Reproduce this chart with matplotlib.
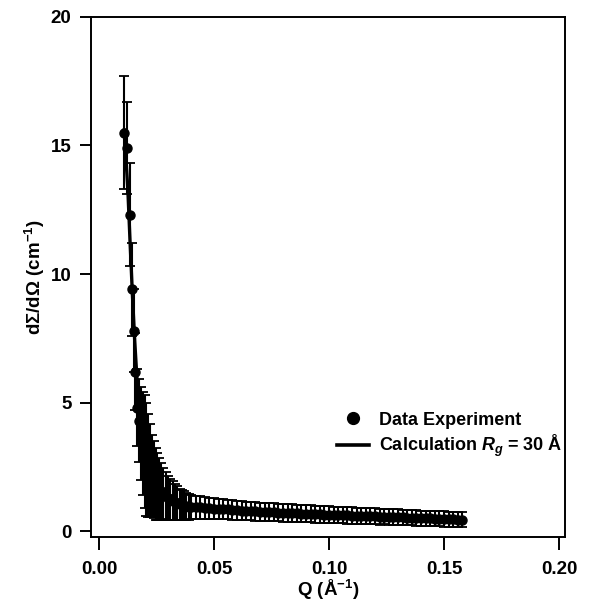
#!/usr/bin/env python3
"""SANS curve: experimental data with error bars and Rg = 30 A calculation."""
import matplotlib as mpl
import matplotlib.pyplot as plt
from matplotlib.lines import Line2D

q_exp = [0.0109, 0.0122, 0.0135, 0.0143, 0.0152, 0.0158, 0.0166, 0.0174, 0.0182,
         0.0190, 0.0198, 0.0206, 0.0214, 0.0222, 0.0230, 0.0238, 0.0246, 0.0254,
         0.0262, 0.0270, 0.0280, 0.0290, 0.0300, 0.0310, 0.0320, 0.0330, 0.0340,
         0.0350, 0.0360, 0.0370, 0.0380, 0.0390, 0.0400,
         0.042, 0.044, 0.046, 0.048, 0.050, 0.052, 0.054, 0.056, 0.058, 0.060,
         0.062, 0.064, 0.066, 0.068, 0.070, 0.072, 0.074, 0.076, 0.078, 0.080,
         0.082, 0.084, 0.086, 0.088, 0.090, 0.092, 0.094, 0.096, 0.098, 0.100,
         0.102, 0.104, 0.106, 0.108, 0.110, 0.112, 0.114, 0.116, 0.118, 0.120,
         0.122, 0.124, 0.126, 0.128, 0.130, 0.132, 0.134, 0.136, 0.138, 0.140,
         0.142, 0.144, 0.146, 0.148, 0.150, 0.152, 0.154, 0.156, 0.158]
i_exp = [15.5, 14.9, 12.3, 9.4, 7.8, 6.2, 4.8, 4.3, 3.8,
         3.4, 3.1, 2.8, 2.55, 2.35, 2.15, 2.0, 1.85, 1.75,
         1.65, 1.55, 1.45, 1.38, 1.30, 1.24, 1.18, 1.13, 1.09,
         1.05, 1.02, 0.99, 0.97, 0.95, 0.94,
         0.93, 0.92, 0.90, 0.89, 0.87, 0.86, 0.85, 0.84, 0.82, 0.81,
         0.80, 0.79, 0.78, 0.77, 0.76, 0.75, 0.74, 0.73, 0.72, 0.71,
         0.70, 0.70, 0.69, 0.68, 0.67, 0.67, 0.66, 0.65, 0.64, 0.64,
         0.63, 0.62, 0.62, 0.61, 0.60, 0.60, 0.59, 0.58, 0.58, 0.57,
         0.56, 0.56, 0.55, 0.54, 0.54, 0.53, 0.52, 0.52, 0.51, 0.50,
         0.50, 0.49, 0.48, 0.48, 0.47, 0.46, 0.46, 0.45, 0.45]
err_exp = [2.2, 1.8, 2.0, 1.8, 1.6, 1.5, 1.5, 1.6, 1.8,
           2.0, 2.2, 2.2, 2.0, 1.8, 1.6, 1.5, 1.4, 1.3,
           1.2, 1.1, 1.0, 0.9, 0.85, 0.8, 0.75, 0.7, 0.65,
           0.6, 0.58, 0.55, 0.52, 0.5, 0.48,
           0.45, 0.44, 0.42, 0.41, 0.40, 0.40, 0.39, 0.38, 0.38, 0.37,
           0.37, 0.36, 0.36, 0.36, 0.35, 0.35, 0.35, 0.35, 0.34, 0.34,
           0.34, 0.34, 0.34, 0.33, 0.33, 0.33, 0.33, 0.33, 0.33, 0.32,
           0.32, 0.32, 0.32, 0.32, 0.32, 0.31, 0.31, 0.31, 0.31, 0.31,
           0.31, 0.30, 0.30, 0.30, 0.30, 0.30, 0.30, 0.30, 0.30, 0.30,
           0.30, 0.30, 0.30, 0.30, 0.30, 0.30, 0.30, 0.30, 0.30]

q_calc = [0.0109, 0.0115, 0.0125, 0.0135, 0.0145, 0.0155, 0.0165, 0.0175, 0.0185,
          0.0195, 0.0210, 0.0225, 0.0240, 0.0260, 0.0280, 0.0300, 0.0325, 0.0350,
          0.0375, 0.0400, 0.0450, 0.0500, 0.0600, 0.0700, 0.0800, 0.0900, 0.1000,
          0.1100, 0.1200, 0.1300, 0.1400, 0.1500, 0.1580]
i_calc = [15.6, 14.8, 13.3, 11.2, 9.2, 7.4, 5.9, 4.9, 4.1,
          3.5, 2.9, 2.45, 2.1, 1.75, 1.5, 1.32, 1.17, 1.06,
          0.99, 0.94, 0.89, 0.85, 0.80, 0.75, 0.71, 0.67, 0.64,
          0.60, 0.57, 0.54, 0.50, 0.47, 0.45]

x_ticks = [0.00, 0.05, 0.10, 0.15, 0.20]
y_ticks = [0, 5, 10, 15, 20]


def main() -> None:
    mpl.rcParams.update(
        {
            "font.family": "Liberation Sans",
            "font.weight": "bold",
            "axes.labelweight": "bold",
            "font.size": 13,
            "mathtext.fontset": "custom",
            "mathtext.rm": "Liberation Sans:bold",
            "mathtext.bf": "Liberation Sans:bold",
            "mathtext.it": "Liberation Sans:bold:italic",
            "axes.linewidth": 1.4,
        }
    )

    fig = plt.figure(figsize=(6.08, 6.08), dpi=100)
    ax = fig.add_axes([0.1497, 0.1168, 0.7796, 0.8553])

    ax.errorbar(q_exp, i_exp, yerr=err_exp, fmt="o", color="black", ms=6.5,
                elinewidth=1.5, capsize=3.6, capthick=1.3, zorder=3)
    ax.plot(q_calc, i_calc, color="black", lw=2.4, zorder=4)

    ax.set_xlim(-0.0035, 0.2026)
    ax.set_ylim(-0.23, 20.0)
    ax.set_xticks(x_ticks)
    ax.set_xticklabels([f"{v:.2f}" for v in x_ticks])
    ax.set_yticks(y_ticks)
    ax.tick_params(axis="x", direction="out", length=9, width=1.4, pad=8, labelsize=13.5)
    ax.tick_params(axis="y", direction="out", length=8, width=1.4, pad=6, labelsize=13.5)
    ax.set_xlabel("Q (Å$^{-1}$)", fontsize=13.5, labelpad=0)
    ax.set_ylabel("dΣ/dΩ (cm$^{-1}$)", fontsize=13.5, labelpad=3)

    handles = [
        Line2D([], [], ls="none", marker="o", color="black", ms=8.5),
        Line2D([], [], color="black", lw=2.6),
    ]
    ax.legend(handles, ["Data Experiment", r"Calculation $R_g$ = 30 Å"],
              loc="upper left", bbox_to_anchor=(0.503, 0.255), frameon=False,
              fontsize=13, handlelength=1.8, handletextpad=0.55, labelspacing=0.25,
              borderaxespad=0)

    fig.savefig("out.png", dpi=100)


if __name__ == "__main__":
    main()
